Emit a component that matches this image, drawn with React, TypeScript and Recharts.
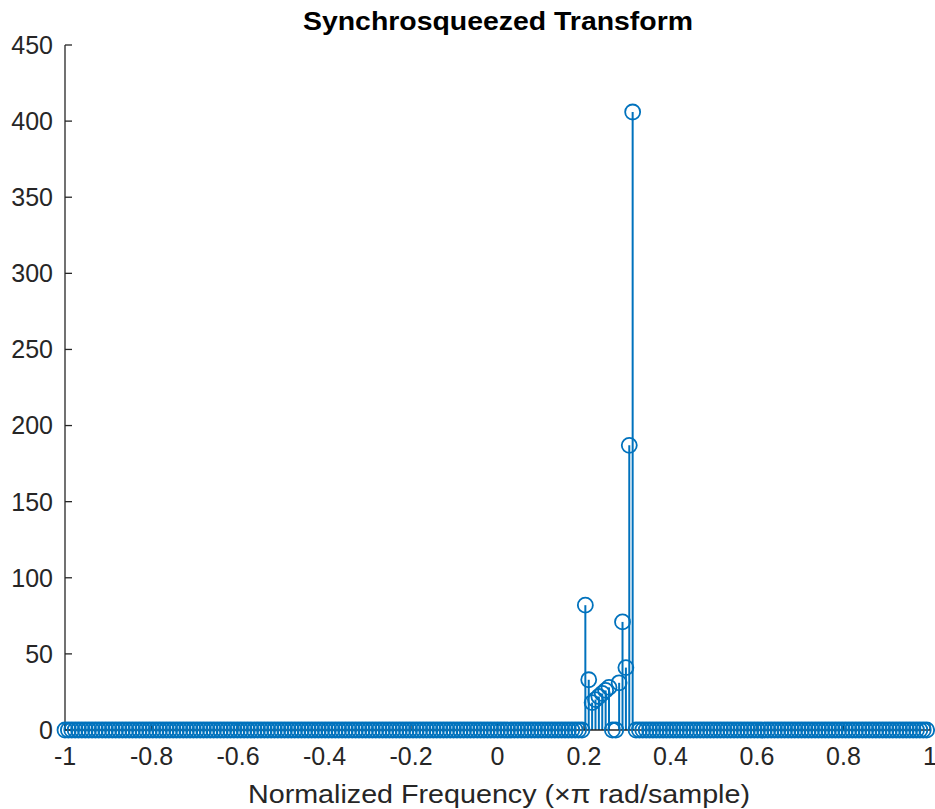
import React from "react";
import {
  ComposedChart,
  Scatter,
  XAxis,
  YAxis,
  ReferenceLine,
} from "recharts";

// Frequency grid of the transform: 256 bins over [-1, 1)
const binCount = 256;

// Bins that carry energy (everything else sits at 0)
const peakBins = [154, 155, 156, 157, 158, 159, 160, 161, 164, 165, 166, 167, 168];
const peakValues = [82, 33, 18, 20, 22, 24, 26, 28, 31, 71, 41, 187, 406];

const xTicks = [-1, -0.8, -0.6, -0.4, -0.2, 0, 0.2, 0.4, 0.6, 0.8, 1];
const yTicks = [0, 50, 100, 150, 200, 250, 300, 350, 400, 450];

const frequencies = Array.from({ length: binCount }, (_, k) => -1 + (2 * k) / binCount);

const data = frequencies.map((f, k) => {
  const i = peakBins.indexOf(k);
  return { f, v: i >= 0 ? peakValues[i] : 0 };
});

const stems = data.filter((d) => d.v !== 0);

const BLUE = "#0072BD";
const AXIS = "#262626";
const FONT = '"Liberation Sans", Arial, sans-serif';

const tickStyle = { fontSize: 25, fill: AXIS, fontFamily: FONT };

function StemMarker(props: any) {
  const { cx, cy } = props;
  if (cx == null || cy == null) return null;
  return <circle cx={cx} cy={cy} r={7.5} fill="none" stroke={BLUE} strokeWidth={1.8} />;
}

export default function App() {
  return (
    <div
      style={{
        position: "absolute",
        left: 0,
        top: 0,
        width: 935,
        height: 809,
        background: "#fff",
        fontFamily: FONT,
      }}
    >
      <ComposedChart
        width={935}
        height={809}
        data={data}
        margin={{ top: 45, right: 5, bottom: 0, left: 0 }}
      >
        <XAxis
          dataKey="f"
          type="number"
          domain={[-1, 1]}
          ticks={xTicks}
          interval={0}
          height={79}
          tick={tickStyle}
          tickSize={-7}
          tickMargin={24}
          axisLine={{ stroke: AXIS, strokeWidth: 1.3 }}
          tickLine={{ stroke: AXIS, strokeWidth: 1.3 }}
          tickFormatter={(v: number) => String(v)}
        />
        <XAxis
          xAxisId="top"
          orientation="top"
          type="number"
          domain={[-1, 1]}
          ticks={xTicks}
          interval={0}
          allowDataOverflow
          height={0}
          tickSize={-7}
          tickFormatter={() => ""}
          axisLine={{ stroke: AXIS, strokeWidth: 1.3 }}
          tickLine={{ stroke: AXIS, strokeWidth: 1.3 }}
        />
        <YAxis
          type="number"
          domain={[0, 450]}
          ticks={yTicks}
          interval={0}
          width={65}
          tick={tickStyle}
          tickSize={-7}
          tickMargin={19}
          axisLine={{ stroke: AXIS, strokeWidth: 1.3 }}
          tickLine={{ stroke: AXIS, strokeWidth: 1.3 }}
        />
        <YAxis
          yAxisId="right"
          orientation="right"
          type="number"
          domain={[0, 450]}
          ticks={yTicks}
          interval={0}
          allowDataOverflow
          width={0}
          tickSize={-7}
          tickFormatter={() => ""}
          axisLine={{ stroke: AXIS, strokeWidth: 1.3 }}
          tickLine={{ stroke: AXIS, strokeWidth: 1.3 }}
        />
        {stems.map((d) => (
          <ReferenceLine
            key={d.f}
            segment={[
              { x: d.f, y: 0 },
              { x: d.f, y: d.v },
            ]}
            stroke={BLUE}
            strokeWidth={2}
            ifOverflow="visible"
          />
        ))}
        <Scatter dataKey="v" shape={StemMarker} isAnimationActive={false} />
      </ComposedChart>

      <svg
        width={935}
        height={809}
        style={{ position: "absolute", left: 0, top: 0, pointerEvents: "none" }}
      >
        <text
          x={498}
          y={30}
          textAnchor="middle"
          fontFamily={FONT}
          fontWeight="bold"
          fontSize={25}
          fill="#000"
          textLength={390}
          lengthAdjust="spacingAndGlyphs"
        >
          Synchrosqueezed Transform
        </text>
        <text
          x={499}
          y={803}
          textAnchor="middle"
          fontFamily={FONT}
          fontSize={25}
          fill={AXIS}
          textLength={502}
          lengthAdjust="spacingAndGlyphs"
        >
          Normalized Frequency (×π rad/sample)
        </text>
      </svg>
    </div>
  );
}
